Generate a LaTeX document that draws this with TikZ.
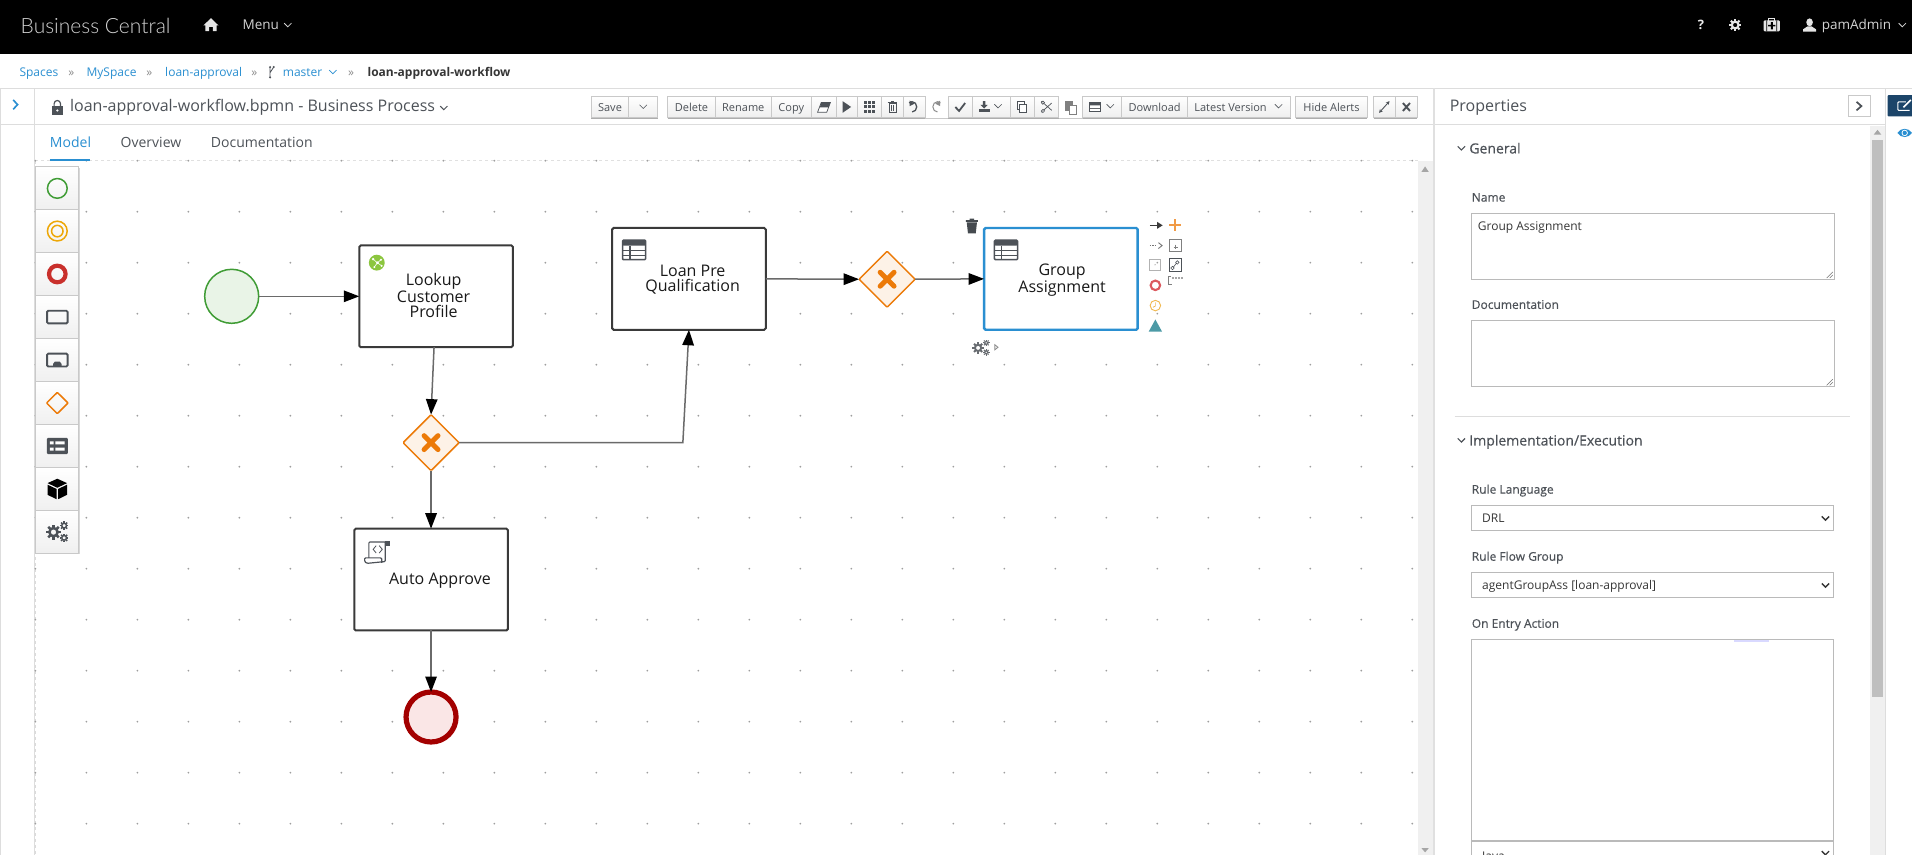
\documentclass[tikz,border=0pt]{standalone}
\usepackage{fontspec}
\setmainfont{Open Sans}
\newfontfamily\semib{Open Sans}[FakeBold=0.35]
\newfontfamily\lightf{Lato Light}
\usetikzlibrary{arrows.meta,shapes.geometric,shadows}
\definecolor{ic}{HTML}{4D5258}
\definecolor{tx}{HTML}{363636}
\definecolor{lbl}{HTML}{4D5258}
\definecolor{blu}{HTML}{2A8FD1}
\definecolor{hd}{HTML}{D4D4D4}
\definecolor{sep}{HTML}{DDDDDD}
\definecolor{org}{HTML}{EC7A08}
\definecolor{orgf}{HTML}{FDF2E7}
\definecolor{bd}{HTML}{3A3A3A}
\definecolor{flowc}{HTML}{6A6A6A}
\definecolor{startc}{HTML}{3F9C35}
\definecolor{startf}{HTML}{E9F4E7}
\definecolor{endc}{HTML}{A30000}
\definecolor{endf}{HTML}{FAE6E6}
\definecolor{cc9}{HTML}{C9C9C9}
\definecolor{cee}{HTML}{EEEEEE}
\definecolor{palred}{HTML}{C9302C}
\definecolor{palyel}{HTML}{EDA707}
\definecolor{lime}{HTML}{8CC63F}
\definecolor{navy}{HTML}{1C4569}
\definecolor{tealc}{HTML}{4C9AA6}
\definecolor{softred}{HTML}{DC5A5F}
\definecolor{softyel}{HTML}{F0B84F}
\newcommand\fsz[1]{\fontsize{#1}{#1}\selectfont}
\tikzset{
  x=1.2194pt,y=-1.2194pt,
  txt/.style={inner sep=0,outer sep=0,anchor=mid west,text=lbl,yshift=-2pt},
  ctx/.style={inner sep=0,outer sep=0,anchor=mid,text=lbl,yshift=-2pt},
  tbbox/.style={draw=cc9,line width=.8pt,top color=white,bottom color=cee},
  tbtext/.style={ctx,font=\fsz{11}},
  taskbox/.style={draw=bd,line width=2pt,rounded corners=1.5pt,fill=white,minimum width=153.6pt,minimum height=101.8pt,inner sep=0,outer sep=0},
  tasklabel/.style={inner sep=0,outer sep=0,align=center,font=\fontsize{16}{15}\selectfont,text=black!90},
  gate/.style={diamond,aspect=1,draw=org,line width=1.5pt,rounded corners=1pt,fill=orgf,minimum size=56pt,inner sep=0,outer sep=0},
  flow/.style={draw=flowc,line width=1.5pt,-{Triangle[length=15.5pt,width=11.5pt,color=black,fill=black]}},
  gatex/.style={org,line width=5pt,line cap=round},
  inputbox/.style={draw=black!27,line width=.9pt,fill=white},
  sectt/.style={txt,font=\semib\fsz{14},text=lbl},
  fieldl/.style={txt,font=\semib\fsz{12},text=lbl},
  fieldv/.style={txt,font=\fsz{12},text=tx},
  crumb/.style={txt,font=\fsz{12},text=blu},
  crsep/.style={ctx,font=\fsz{12},text=black!45},
}
\newcommand\chev[4]{\draw[#3,line width=#4pt] (#1-3,#2-1.5) -- (#1,#2+1.5) -- (#1+3,#2-1.5);}
\newcommand\gearic[4]{\begin{scope}[shift={(#1,#2)}]
  \foreach \a in {0,45,...,315}{\draw[#4,line width=#3*.42pt] (\a:#3*.65) -- (\a:#3);}
  \draw[#4,line width=#3*.42pt] (0,0) circle (#3*.55);
\end{scope}}
\newcommand\gearsic[4]{\gearic{#1-2.4*#3}{#2+.3*#3}{4.7*#3}{#4}\gearic{#1+4.3*#3}{#2-3.8*#3}{2.7*#3}{#4}\gearic{#1+4.3*#3}{#2+3.9*#3}{2.7*#3}{#4}}
\newcommand\tableic[2]{\begin{scope}[shift={(#1,#2)}]
  \draw[ic,line width=1.5pt,rounded corners=1pt,fill=white] (-9.5,-8) rectangle (9.5,8);
  \fill[ic,rounded corners=1pt] (-9.5,-8) rectangle (9.5,-3.6);
  \draw[ic,line width=1.2pt] (-9.5,.6) -- (9.5,.6) (-9.5,4.4) -- (9.5,4.4) (-3.4,-3.6) -- (-3.4,8);
\end{scope}}
\newcommand\tbtn[4]{\draw[tbbox] (#2,79) rectangle (#3,96.5); \draw[black!32,line width=.8pt] (#2,96.7) -- (#3,96.7); \node[tbtext] (#1) at ({(#2+#3)/2},87.7) {#4};}
\newcommand\hair[2]{\draw[sep,line width=1.1pt] (#1) -- (#2);}
\begin{document}
\begin{tikzpicture}
\useasboundingbox (0,0) rectangle (1568,701.15);
\clip (0,0) rectangle (1568,701.15);
\fill[white] (0,0) rectangle (1568,701.15);
% ---------- header
\fill[black] (0,0) rectangle (1568,44.3);
\node[txt,font=\lightf\fsz{21},text=hd] (brand) at (17,23.5) {Business Central};
\begin{scope}[shift={(173,20.5)}]
  \fill[white!90!black] (-6.2,.4) -- (0,-5.6) -- (6.2,.4) -- (4.6,.4) -- (4.6,5) -- (1.6,5) -- (1.6,1.6) -- (-1.6,1.6) -- (-1.6,5) -- (-4.6,5) -- (-4.6,.4) -- cycle;
\end{scope}
\node[txt,font=\fsz{13.5},text=hd] (menu) at (199,20.5) {Menu};
\chev{236}{20.5}{hd}{.8}
\node[ctx,font=\bfseries\fsz{13},text=white!92!black] (help) at (1395,20.5) {?};
\gearic{1423}{20.5}{5}{white!90!black}
\begin{scope}[shift={(1453,20.5)}]
  \draw[white!90!black,line width=.9pt] (-2.4,-3.6) -- (-2.4,-5) -- (2.4,-5) -- (2.4,-3.6);
  \fill[white!90!black,rounded corners=1pt] (-6.6,-3.8) rectangle (6.6,5.2);
  \fill[black] (-4.4,-3.8) rectangle (-3.8,5.2) (3.8,-3.8) rectangle (4.4,5.2);
  \fill[black] (-.8,-2.4) rectangle (.8,3.6) (-3,-.2) rectangle (3,1.2);
\end{scope}
\begin{scope}[shift={(1484,20.5)}]
  \fill[white!90!black] (0,-2.2) ellipse (2.7 and 3.2);
  \fill[white!90!black] (-5.4,5.4) -- (-5.4,3.6) -- (-1.8,1.2) -- (1.8,1.2) -- (5.4,3.6) -- (5.4,5.4) -- cycle;
\end{scope}
\node[txt,font=\fsz{13.5},text=hd] (user) at (1494,20.5) {pamAdmin};
\chev{1560}{20.5}{hd}{.8}
% ---------- breadcrumb
\node[crumb] (c1) at (16,59) {Spaces};
\node[crsep] (s1) at (58.5,59) {»};
\node[crumb] (c2) at (71,59) {MySpace};
\node[crsep] (s2) at (122.5,59) {»};
\node[crumb] (c3) at (135.5,59) {loan-approval};
\node[crsep] (s3) at (208.5,59) {»};
\draw[ic,line width=.8pt] (221.5,55) -- (221.5,63.5) (221.5,59.5) -- (224.5,55);
\fill[ic] (221.5,55) circle (.9) (224.5,55) circle (.9) (221.5,63.5) circle (.9);
\node[crumb] (c4) at (232,59) {master};
\chev{273}{59}{blu}{.8}
\node[crsep] (s4) at (288,59) {»};
\node[txt,font=\bfseries\fsz{12},text=tx] (c5) at (301.5,59) {loan-approval-workflow};
% ---------- frame lines
\hair{0,72.5}{1568,72.5}
\hair{0,102}{1175,102}
\hair{1177,102}{1546,102}
\hair{.5,72.5}{.5,701.15}
\hair{28,72.5}{28,701.15}
\fill[black!12] (1175,72.5) rectangle (1177,701.15);
\hair{1546,72.5}{1546,701.15}
\draw[blu,line width=1.6pt] (10.8,82) -- (14.5,85.8) -- (10.8,89.6);
% title
\begin{scope}[shift={(47,88)}]
  \draw[ic,line width=1.2pt] (-2.6,-.5) -- (-2.6,-3) arc (180:360:2.6) -- (2.6,-.5);
  \fill[ic] (-4.3,-.8) rectangle (4.3,6);
  \fill[white] (0,2.6) circle (1);
\end{scope}
\node[txt,font=\fsz{16},text=lbl] (title) at (57.5,87.5) {loan-approval-workflow.bpmn - Business Process};
\chev{364}{88.5}{lbl}{.9}
% tabs
\node[txt,font=\fsz{14},text=blu] (t1) at (41,117) {Model};
\node[txt,font=\fsz{14}] (t2) at (99,117) {Overview};
\node[txt,font=\fsz{14}] (t3) at (173,117) {Documentation};
% ---------- toolbar
\tbtn{b1}{485}{515.5}{Save}
\tbtn{b2}{515.5}{539.4}{}
\chev{527.5}{87.5}{lbl}{.6}
\tbtn{b3}{547.5}{586.6}{Delete}
\tbtn{b4}{586.6}{632.5}{Rename}
\tbtn{b5}{632.5}{665.3}{Copy}
\tbtn{b6}{665.3}{686}{}
\draw[ic,line width=.7pt,fill=white] (670.5,92) -- (673.5,84) -- (681,84) -- (678,92) -- cycle;
\fill[ic] (672.3,88) -- (673.5,84) -- (681,84) -- (679.6,88) -- cycle;
\tbtn{b7}{686}{703.1}{}
\fill[ic] (691,83) -- (698,87.7) -- (691,92.5) -- cycle;
\tbtn{b8}{703.1}{722.9}{}
\foreach \i in {-3.4,0,3.4}\foreach \j in {-3.4,0,3.4}{\fill[ic] ({713+\i-1.2},{87.7+\j-1.2}) rectangle ++(2.4,2.4);}
\tbtn{b9}{722.9}{740.9}{}
\draw[ic,line width=.7pt] (729,85) rectangle (735,92.5) (728,84.2) -- (736,84.2) (731,84) -- (731,83) -- (733,83) -- (733,84) (731.3,86.5) -- (731.3,91) (732.8,86.5) -- (732.8,91);
\tbtn{b10}{740.9}{758.9}{}
\draw[ic,line width=1.3pt] (748,91.8) arc (90:-130:3.8 and 4.2);
\fill[ic] (746,82.5) -- (746,87) -- (750,85) -- cycle;
\draw[black!45,line width=1pt] (768.8,91.8) arc (90:310:3.8 and 4.2);
\fill[black!45] (771,82.5) -- (771,87) -- (767,85) -- cycle;
\draw[cc9,line width=.8pt] (758.9,96.7) -- (777.8,96.7);
\tbtn{b12}{777.8}{797.6}{}
\draw[ic,line width=1.8pt] (783.5,87.8) -- (786.5,91) -- (791.5,84.5);
\tbtn{b13}{797.6}{828.6}{}
\fill[ic] (806,83) rectangle (808,86) (804,86) -- (810,86) -- (807,89) -- cycle;
\fill[ic] (802.5,89) rectangle (811.5,92);
\chev{818.5}{87}{lbl}{.6}
\tbtn{b14}{828.6}{848.4}{}
\draw[ic,line width=.7pt,fill=white] (834,83) rectangle (840,90);
\draw[ic,line width=.7pt,fill=white] (836,85.5) rectangle (842,92.5);
\tbtn{b15}{848.4}{868.2}{}
\draw[ic,line width=.7pt] (854,83) -- (862.5,90.5) (854,92) -- (862.5,84.5);
\draw[ic,line width=.7pt,fill=white] (855.3,84.2) circle (1.3) (855.3,91) circle (1.3);
\fill[black!50] (873.5,83) rectangle (880,91);
\fill[white] (877,86) rectangle (883,93.5);
\draw[black!50,line width=.7pt] (877,86) rectangle (883,93.5);
\draw[cc9,line width=.8pt] (868.2,96.7) -- (888,96.7);
\tbtn{b17}{888}{919.9}{}
\fill[ic] (893,83.5) rectangle (903,92);
\fill[white] (894,86.5) rectangle (902,88.4) (894,89.3) rectangle (902,91);
\chev{910.5}{87}{lbl}{.6}
\tbtn{b18}{919.9}{973.9}{Download}
\tbtn{b19}{973.9}{1058.4}{}
\node[txt,font=\fsz{11}] (b19t) at (979.5,87.7) {Latest Version};
\chev{1048.5}{87}{lbl}{.6}
\tbtn{b20}{1062.5}{1121.4}{Hide Alerts}
\tbtn{b21}{1126.4}{1144.3}{}
\draw[ic,line width=.9pt,{Stealth[length=3.5pt,width=3.8pt]}-{Stealth[length=3.5pt,width=3.8pt]}] (1131,92.5) -- (1139.5,83);
\tbtn{b22}{1144.3}{1162.4}{}
\draw[ic,line width=1.9pt] (1150.5,84.5) -- (1156.3,91) (1156.3,84.5) -- (1150.5,91);
% ---------- canvas
\draw[black!12,dashed,line width=.6pt] (29,131.8) -- (1163,131.8);
\draw[black!14,dashed,line width=.6pt] (29,132) -- (29,701.15);
\foreach \i in {-18,...,9}\foreach \j in {0,...,13}{\fill[black!38] ({781.8+41.82*\i},{131.8+41.82*\j}) circle (.8);}
\draw[blu,line width=1.8pt] (41,131) -- (74,131);
\fill[black!6] (1162.6,131.8) rectangle (1175,701.15);
\fill[black!35] (1165.7,141) -- (1168.7,136.5) -- (1171.7,141) -- cycle;
\fill[black!35] (1165.7,695.5) -- (1168.7,699) -- (1171.7,695.5) -- cycle;
% ---------- process nodes
\node[circle,draw=startc,line width=1.5pt,fill=startf,minimum size=54pt,inner sep=0,outer sep=0] (start) at (190,243) {};
\node[taskbox] (lookup) at (357.6,243) {};
\node[tasklabel] (lookupt) at (355.6,242.5) {Lookup\\Customer\\Profile};
\node[taskbox] (pre) at (565,228.7) {};
\node[tasklabel] (pret) at (568,229.5) {Loan Pre\\Qualification};
\node[taskbox,draw=blu,line width=2.4pt,drop shadow={opacity=.25,shadow xshift=1pt,shadow yshift=-1pt}] (group) at (870,228.7) {};
\node[tasklabel] (groupt) at (871,229.5) {Group\\Assignment};
\node[taskbox] (auto) at (353.5,475.3) {};
\node[tasklabel] (autot) at (360.8,476.5) {Auto Approve};
\node[gate] (gwa) at (353.5,363) {};
\node[gate] (gwb) at (727.5,229) {};
\node[circle,draw=endc,line width=5.2pt,fill=endf,minimum size=50pt,inner sep=0,outer sep=0] (end) at (353.5,588) {};
\draw[gatex] (347.8,357.3) -- (359.2,368.7) (347.8,368.7) -- (359.2,357.3);
\draw[gatex] (721.8,223.3) -- (733.2,234.7) (721.8,234.7) -- (733.2,223.3);
% connectors
\draw[flow] (start) -- (lookup.west |- start);
\draw[flow] ([xshift=-2pt]lookup.south) -- (gwa.north);
\draw[flow] (gwa.south) -- (auto.north);
\draw[flow] (gwa.east) -- (560,363) -- (pre.south);
\draw[flow] (pre.east) -- (gwb.west);
\draw[flow] (gwb.east) -- (group.west);
\draw[flow] (auto.south) -- (end.north);
% task markers
\fill[lime] (309,215.4) circle (6.5);
\draw[white,line width=.6pt] (306,212.5) -- (309.5,215.5) -- (312.5,213) (309.5,215.5) -- (307,219) (309.5,215.5) -- (313,218);
\fill[white] (306,212.5) circle (1.1) (312.5,213) circle (.9) (307,219) circle (.9) (313,218) circle (.9) (309.5,215.5) circle (1.2);
\tableic{520}{205}
\tableic{825}{205}
\begin{scope}[shift={(309,452.5)}]
  \draw[ic,line width=1.2pt,rounded corners=1pt] (-6.5,5) -- (-6.5,-8) -- (10,-8) (7,-8) -- (7,8) -- (-8,9.5) -- (-10,8) -- (-10,5) -- (4,5) -- (4,9);
  \fill[ic] (7,-9) rectangle (10.5,-4.5);
  \draw[ic,line width=.8pt] (-.5,-5) -- (-3,-2) -- (-.5,1) (2,-5) -- (4.5,-2) -- (2,1);
\end{scope}
% group toolbox
\begin{scope}[shift={(797,185.3)}]
  \fill[ic!90!black] (-4.2,-3) -- (4.2,-3) -- (3.2,6) -- (-3.2,6) -- cycle;
  \fill[ic!90!black] (-5,-4.8) rectangle (5,-3.4) (-1.8,-6) rectangle (1.8,-4.8);
\end{scope}
\draw[bd,line width=1pt] (943,184.8) -- (949,184.8);
\fill[bd] (949,182) -- (953.5,184.8) -- (949,187.6) -- cycle;
\draw[org!75!white,line width=1.9pt] (959,184.5) -- (968.5,184.5) (963.7,179.8) -- (963.7,189.2);
\draw[bd!70!white,line width=1pt,dash pattern=on 1.5pt off 1pt] (943,201.4) -- (949,201.4);
\draw[bd!70!white,line width=.9pt] (950,199) -- (953,201.4) -- (950,203.8);
\draw[black!50,line width=.9pt] (959,196.4) rectangle (969,206.4);
\draw[black!50,line width=.7pt] (962.5,202.5) -- (966,202.5) (964.2,200.7) -- (964.2,204.3);
\draw[black!30,line width=.9pt] (942.5,212.5) rectangle (952,222);
\fill[black!50] (947.2,217.2) circle (.5);
\draw[ic,line width=.9pt] (959,212.3) rectangle (969,222.3);
\draw[ic,line width=.6pt] (961.5,219.8) circle (1.4) (965.5,215.2) circle (1.4) (962.5,218.8) -- (964.5,216.2);
\draw[black!50,line width=.7pt] (960.3,226.5) -- (958.3,226.5) -- (958.3,233) -- (961,233);
\draw[black!35,line width=1.2pt,dash pattern=on 1pt off .5pt] (961,228) -- (970,228);
\draw[softred,line width=2.1pt] (947.5,234) circle (3.9);
\draw[softyel,line width=.9pt] (947.5,250.6) circle (4.3);
\draw[softyel,line width=.7pt] (947.5,248) -- (947.5,251) -- (945.5,252);
\fill[tealc] (942,272) -- (947.5,262) -- (953,272) -- cycle;
\gearsic{804.5}{285}{1}{ic!85!white}
\fill[black!45] (815.5,282) -- (819,284.8) -- (815.5,287.6) -- cycle;
\fill[white] (816.2,283.6) -- (817.6,284.8) -- (816.2,286) -- cycle;
% ---------- palette
\node[rectangle,minimum width=43pt,minimum height=386.4pt,fill=white,inner sep=0,outer sep=0,drop shadow={opacity=.3,shadow xshift=1pt,shadow yshift=-1pt}] (palette) at (46.9,295.15) {};
\foreach \k in {0,...,8}{
  \draw[cc9,line width=.8pt,top color=white,bottom color=cee!90!white] (29.3,136.7+35.2*\k) rectangle (64.5,171.9+35.2*\k);
}
\draw[startc,line width=1.5pt] (47,154.5) circle (8.1);
\draw[palyel,line width=1.5pt] (47,189.5) circle (8.1) (47,189.5) circle (4.7);
\draw[palred,line width=4.2pt] (47,224.7) circle (6.8);
\draw[ic,line width=1.9pt,rounded corners=1.2pt] (38.6,254.8) rectangle (55.4,265.2);
\draw[ic,line width=1.9pt,rounded corners=1.2pt] (38.6,290) rectangle (55.4,300.6);
\fill[ic] (43.5,300.6) -- (43.5,298.5) -- (45,296.5) -- (49,296.5) -- (50.5,298.5) -- (50.5,300.6) -- cycle;
\draw[org,line width=1.5pt,rounded corners=.6pt] (47,321.8) -- (55.8,330.5) -- (47,339.2) -- (38.2,330.5) -- cycle;
\fill[ic,rounded corners=1.2pt] (38.4,359) rectangle (55.6,372.5);
\fill[white] (41,362) rectangle (44,364.5) (41,367) rectangle (44,369.5) (45.5,362) rectangle (53,364.5) (45.5,367) rectangle (53,369.5);
\fill[black] (47,392.6) -- (55,396.2) -- (47,400) -- (39,396.2) -- cycle;
\fill[black] (39,397.5) -- (46.4,401) -- (46.4,409.4) -- (39,405.8) -- cycle;
\fill[black] (55,397.5) -- (47.6,401) -- (47.6,409.4) -- (55,405.8) -- cycle;
\gearsic{47}{436}{1.3}{ic}
% ---------- properties
\node[txt,font=\fsz{16},text=lbl] (prop) at (1189,88) {Properties};
\draw[cc9,line width=.8pt,fill=white,drop shadow={opacity=.2,shadow xshift=.6pt,shadow yshift=-.6pt}] (1516,78) rectangle (1533.5,95.7);
\draw[ic,line width=1.7pt] (1522.5,83.5) -- (1526.5,87) -- (1522.5,90.5);
\fill[black!6] (1533.6,103) rectangle (1545.5,701.15);
\fill[black!25] (1535,115) rectangle (1544.6,572);
\fill[black!35] (1536.5,110.5) -- (1539.7,106.5) -- (1542.9,110.5) -- cycle;
\chev{1198.5}{121.5}{lbl}{1.1}
\node[sectt] (sec1) at (1205,122) {General};
\node[fieldl] (l1) at (1207,161.5) {Name};
\draw[inputbox] (1207,175) rectangle (1504,229);
\node[fieldv] (v1) at (1212,185.5) {Group Assignment};
\draw[black!55,line width=.5pt] (1498,228) -- (1503,223) (1500.5,228) -- (1503,225.5);
\node[fieldl] (l2) at (1207,249.5) {Documentation};
\draw[inputbox] (1207,263) rectangle (1504,317);
\draw[black!55,line width=.5pt] (1498,316) -- (1503,311) (1500.5,316) -- (1503,313.5);
\draw[sep,line width=1pt] (1193,341.5) -- (1517,341.5);
\chev{1198.5}{361}{lbl}{1.1}
\node[sectt] (sec2) at (1205,361.5) {Implementation/Execution};
\node[fieldl] (l3) at (1207,401) {Rule Language};
\draw[inputbox] (1206.6,414.3) rectangle (1503.8,435.4);
\node[fieldv] (v3) at (1215.5,425) {DRL};
\chev{1497}{425}{tx}{1.4}
\node[fieldl] (l4) at (1207,456) {Rule Flow Group};
\draw[inputbox] (1206.6,469.3) rectangle (1503.8,490);
\node[fieldv] (v4) at (1215.5,480) {agentGroupAss [loan-approval]};
\chev{1497}{480}{tx}{1.4}
\node[fieldl] (l5) at (1207,511) {On Entry Action};
\draw[inputbox] (1206.6,524.3) rectangle (1503.8,689.4);
\fill[blue!15!white] (1422,524.5) rectangle (1451,526.4);
\draw[black!27,line width=1pt,fill=white] (1206.6,690.5) rectangle (1503.8,712);
\node[fieldv] (v5) at (1215.5,702) {Java};
\chev{1497}{699.5}{tx}{1.4}
% ---------- far right
\fill[navy,rounded corners=1pt] (1548,78) rectangle (1575,95.5);
\draw[white,line width=1pt,rounded corners=.8pt] (1563,83.5) -- (1556.5,83.5) -- (1556.5,90.5) -- (1566,90.5);
\draw[white,line width=1.6pt] (1561,88) -- (1567,82);
\fill[blu] (1556,109) .. controls (1559,104.5) and (1565,104.5) .. (1568,109) .. controls (1565,113.5) and (1559,113.5) .. (1556,109) -- cycle;
\fill[white] (1562,109) circle (2.6);
\fill[blu] (1562,109) circle (1.8);
\end{tikzpicture}
\end{document}
